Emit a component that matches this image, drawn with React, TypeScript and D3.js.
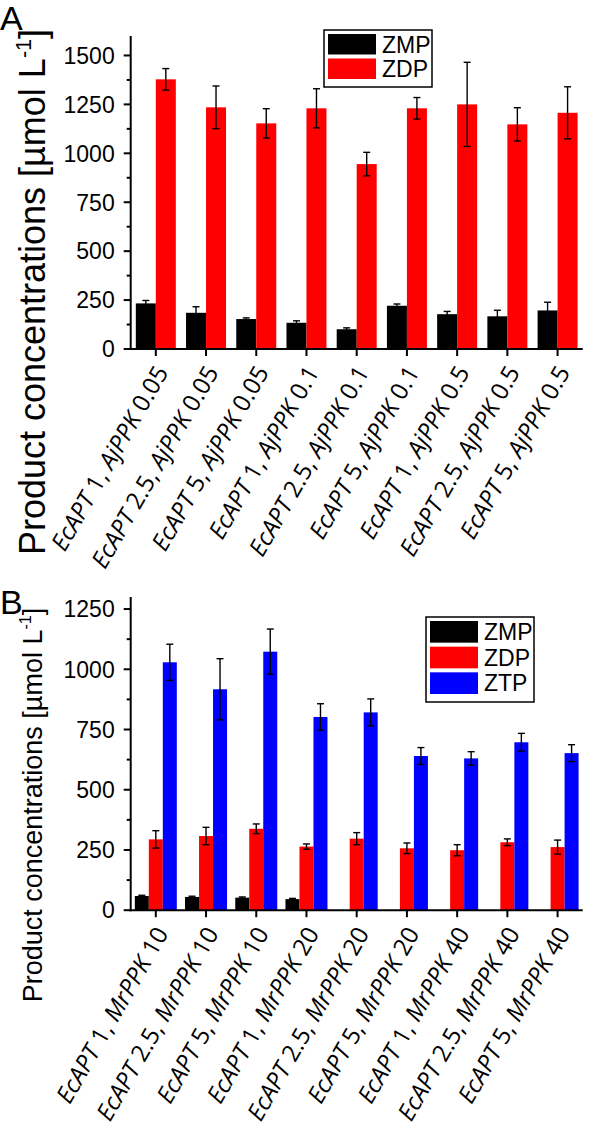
import React from 'react';
import * as d3 from 'd3';

// ---- data, panel A ----
const aptA = ['1', '2.5', '5', '1', '2.5', '5', '1', '2.5', '5'];
const ppkA = ['0.05', '0.05', '0.05', '0.1', '0.1', '0.1', '0.5', '0.5', '0.5'];
const zmpA = [233, 185, 153, 134, 101, 221, 178, 167, 197];
const zmpErrA = [15, 31, 6, 10, 7, 9, 14, 31, 42];
const zdpA = [1378, 1235, 1153, 1230, 945, 1230, 1250, 1148, 1207];
const zdpErrA = [55, 109, 75, 100, 60, 55, 215, 85, 133];
const ticksA = [0, 250, 500, 750, 1000, 1250, 1500];

// ---- data, panel B ----
const aptB = ['1', '2.5', '5', '1', '2.5', '5', '1', '2.5', '5'];
const ppkB = ['10', '10', '10', '20', '20', '20', '40', '40', '40'];
const zmpB = [59, 55, 52, 46, null, null, null, null, null];
const zmpErrB = [3, 3, 3, 3, 0, 0, 0, 0, 0];
const zdpB = [294, 308, 338, 264, 297, 257, 249, 282, 262];
const zdpErrB = [36, 36, 20, 11, 25, 22, 23, 14, 29];
const ztpB = [1029, 917, 1073, 802, 821, 640, 630, 697, 652];
const ztpErrB = [75, 127, 94, 55, 56, 35, 28, 37, 35];
const ticksB = [0, 250, 500, 750, 1000, 1250];

const colors: Record<string, string> = { ZMP: '#000000', ZDP: '#ff0000', ZTP: '#0000ff' };

const tickFont = '"Liberation Sans", Arial, sans-serif';
const labelFont = '"Open Sans", "Noto Sans", sans-serif';

interface Series {
  name: string;
  values: (number | null)[];
  errors: number[];
}

interface PanelProps {
  letter: string;
  letterY: number;
  top: number;
  bottom: number;
  yMax: number;
  ticks: number[];
  series: Series[];
  apt: string[];
  ppkName: string;
  ppk: string[];
  barWidth: number;
  legend: { x: number; y: number; w: number; h: number };
  titleCenter: number;
  titleX: number;
  titleSize: number;
}

const Panel = (p: PanelProps) => {
  const left = 130.7;
  const right = 582.7;
  const x = d3.scaleBand<number>().domain(d3.range(p.apt.length)).range([left, right]);
  const y = d3.scaleLinear().domain([0, p.yMax]).range([p.bottom, p.top]);
  const names = p.series.map((s) => s.name);
  const sub = d3
    .scaleBand<string>()
    .domain(names)
    .range([(-p.barWidth * names.length) / 2, (p.barWidth * names.length) / 2]);
  const minor = d3.range(0, p.yMax + 1, 125).filter((v) => !p.ticks.includes(v));
  const rowH = (p.legend.h - 8) / names.length;
  const sup = p.titleSize * 0.6;

  return (
    <g>
      <text x={0} y={p.letterY} fontFamily={tickFont} fontSize={34}>
        {p.letter}
      </text>
      {/* bars */}
      {p.series.map((s) =>
        s.values.map((v, i) =>
          v == null ? null : (
            <rect
              key={s.name + i}
              x={(x(i) as number) + x.bandwidth() / 2 + (sub(s.name) as number)}
              y={y(v)}
              width={sub.bandwidth()}
              height={y(0) - y(v)}
              fill={colors[s.name]}
            />
          )
        )
      )}
      {/* error bars */}
      {p.series.map((s) =>
        s.values.map((v, i) => {
          if (v == null || !s.errors[i]) return null;
          const cx = (x(i) as number) + x.bandwidth() / 2 + (sub(s.name) as number) + sub.bandwidth() / 2;
          const y1 = y(v + s.errors[i]);
          const y2 = y(v - s.errors[i]);
          return (
            <g key={'e' + s.name + i} stroke="#000" strokeWidth={1.4}>
              <line x1={cx} x2={cx} y1={y1} y2={y2} />
              <line x1={cx - 3.5} x2={cx + 3.5} y1={y1} y2={y1} />
              <line x1={cx - 3.5} x2={cx + 3.5} y1={y2} y2={y2} />
            </g>
          );
        })
      )}
      {/* y axis */}
      <line x1={left} x2={left} y1={p.top} y2={p.bottom + 1} stroke="#000" strokeWidth={2} />
      {p.ticks.map((t) => (
        <g key={'t' + t}>
          <line x1={left - 7} x2={left} y1={y(t)} y2={y(t)} stroke="#000" strokeWidth={2} />
          <text
            x={left - 16}
            y={y(t)}
            dy="0.36em"
            textAnchor="end"
            fontFamily={tickFont}
            fontSize={23}
          >
            {t}
          </text>
        </g>
      ))}
      {minor.map((t) => (
        <line key={'m' + t} x1={left - 4} x2={left} y1={y(t)} y2={y(t)} stroke="#000" strokeWidth={2} />
      ))}
      {/* x axis */}
      <line x1={left - 1} x2={right} y1={p.bottom} y2={p.bottom} stroke="#000" strokeWidth={2} />
      {p.apt.map((a, i) => {
        const cx = (x(i) as number) + x.bandwidth() / 2;
        return (
          <g key={'x' + i}>
            <line x1={cx} x2={cx} y1={p.bottom} y2={p.bottom + 7} stroke="#000" strokeWidth={2} />
            <text
              transform={`translate(${cx + 6},${p.bottom + 19}) rotate(-60)`}
              textAnchor="end"
              dy="0.35em"
              fontFamily={labelFont}
              fontSize={24}
            >
              <tspan fontStyle="italic">EcAPT</tspan>
              {` ${a}, `}
              <tspan fontStyle="italic">{p.ppkName}</tspan>
              {` ${p.ppk[i]}`}
            </text>
          </g>
        );
      })}
      {/* y title */}
      <text
        transform={`translate(${p.titleX},${p.titleCenter}) rotate(-90)`}
        textAnchor="middle"
        fontFamily={tickFont}
        fontSize={p.titleSize}
      >
        Product concentrations [µmol L
        <tspan fontSize={sup} dy={-p.titleSize * 0.4}>
          -1
        </tspan>
        <tspan dy={p.titleSize * 0.4}>]</tspan>
      </text>
      {/* legend */}
      <rect
        x={p.legend.x}
        y={p.legend.y}
        width={p.legend.w}
        height={p.legend.h}
        fill="#fff"
        stroke="#000"
        strokeWidth={1.5}
      />
      {names.map((n, i) => (
        <g key={'l' + n}>
          <rect
            x={p.legend.x + 4}
            y={p.legend.y + 4 + i * rowH}
            width={48}
            height={rowH - 4}
            fill={colors[n]}
          />
          <text
            x={p.legend.x + 58}
            y={p.legend.y + 4 + i * rowH + (rowH - 4) / 2}
            dy="0.36em"
            fontFamily={tickFont}
            fontSize={23}
          >
            {n}
          </text>
        </g>
      ))}
    </g>
  );
};

export default function App() {
  return (
    <svg
      width={600}
      height={1142}
      style={{ position: 'absolute', left: 0, top: 0, background: '#fff' }}
    >
      <Panel
        letter="A"
        letterY={30}
        top={35.9}
        bottom={349}
        yMax={1600}
        ticks={ticksA}
        series={[
          { name: 'ZMP', values: zmpA, errors: zmpErrA },
          { name: 'ZDP', values: zdpA, errors: zdpErrA },
        ]}
        apt={aptA}
        ppkName="AjPPK"
        ppk={ppkA}
        barWidth={20}
        legend={{ x: 324, y: 30, w: 108, h: 57 }}
        titleCenter={292}
        titleX={45}
        titleSize={36}
      />
      <Panel
        letter="B"
        letterY={614}
        top={597}
        bottom={910.2}
        yMax={1300}
        ticks={ticksB}
        series={[
          { name: 'ZMP', values: zmpB, errors: zmpErrB },
          { name: 'ZDP', values: zdpB, errors: zdpErrB },
          { name: 'ZTP', values: ztpB, errors: ztpErrB },
        ]}
        apt={aptB}
        ppkName="MrPPK"
        ppk={ppkB}
        barWidth={14}
        legend={{ x: 426, y: 617, w: 108, h: 85 }}
        titleCenter={805}
        titleX={42}
        titleSize={27}
      />
    </svg>
  );
}
